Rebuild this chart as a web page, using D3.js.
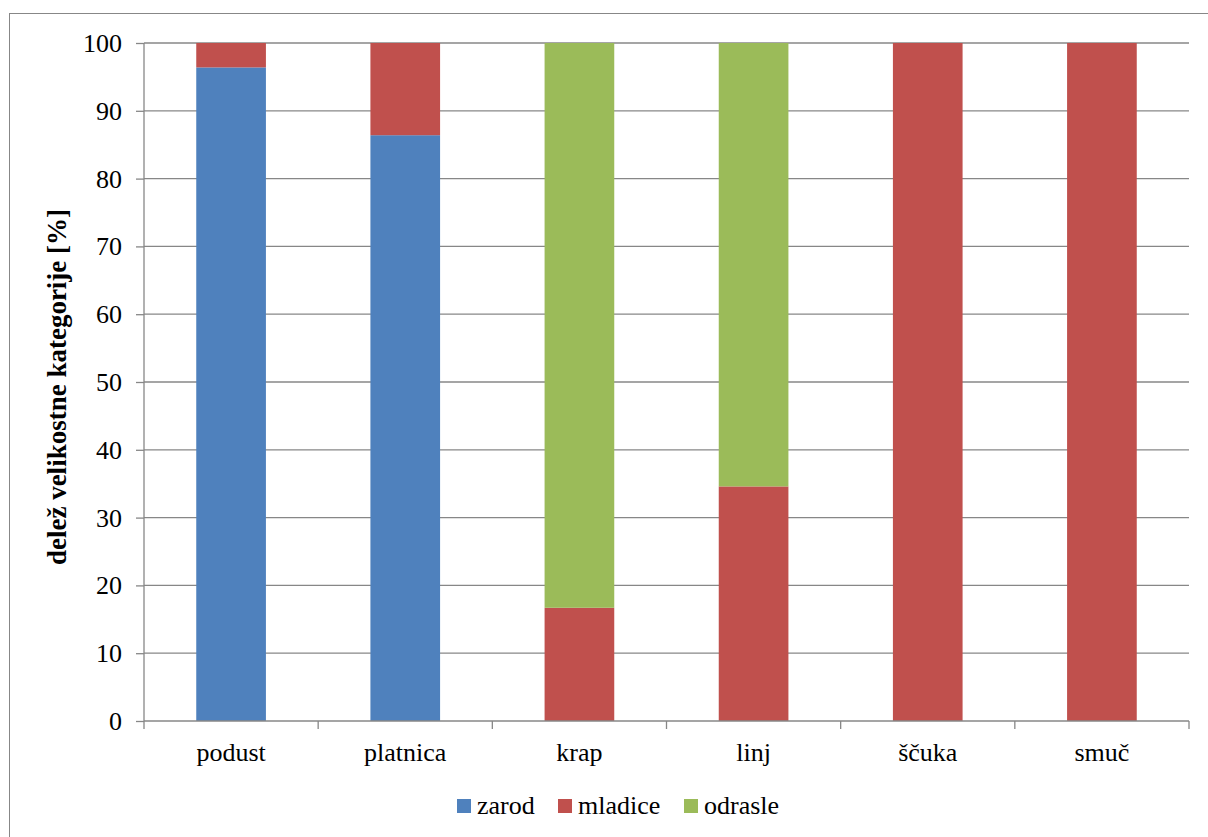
<!DOCTYPE html>
<html><head><meta charset="utf-8">
<script src="https://cdn.jsdelivr.net/npm/d3@7"></script>
</head><body style="margin:0;background:#fff">
<script>
const categories = ["podust","platnica","krap","linj","ščuka","smuč"];
const seriesNames = ["zarod","mladice","odrasle"];
const zarod   = [96.4, 86.4, 0, 0, 0, 0];
const mladice = [3.6, 13.6, 16.7, 34.6, 100, 100];
const odrasle = [0, 0, 83.3, 65.4, 0, 0];
const yTicks = [0,10,20,30,40,50,60,70,80,90,100];
const colors = ["#4F81BD","#C0504D","#9BBB59"];

const FF="Liberation Serif";
const W=1208,H=837;
const svg=d3.select("body").append("svg").attr("width",W).attr("height",H)
  .attr("font-family",FF).style("font-family",`'${FF}'`);
svg.append("rect").attr("x",9.5).attr("y",13.5).attr("width",W).attr("height",H).attr("fill","none").attr("stroke","#878787").attr("stroke-width",1);

const L=144,R=1189,T=43,B=721;
const x=d3.scaleBand().domain(categories).range([L,R]).paddingInner(0.6).paddingOuter(0.3);
const y=d3.scaleLinear().domain([0,100]).range([B,T]);

svg.append("g").selectAll("line").data(yTicks.filter(d=>d>0)).join("line")
  .attr("x1",L).attr("x2",R).attr("y1",d=>y(d)).attr("y2",d=>y(d))
  .attr("stroke","#878787").attr("stroke-width",1.3);

const table=categories.map((c,i)=>({cat:c,zarod:zarod[i],mladice:mladice[i],odrasle:odrasle[i]}));
const stack=d3.stack().keys(seriesNames)(table);
svg.append("g").selectAll("g").data(stack).join("g").attr("fill",(d,i)=>colors[i])
  .selectAll("rect").data(d=>d).join("rect")
  .attr("x",d=>x(d.data.cat)).attr("width",x.bandwidth())
  .attr("y",d=>y(d[1])).attr("height",d=>y(d[0])-y(d[1]));

function tx(sel,fs){fs=fs||26;return sel.attr("font-family",FF).style("font-family",`'${FF}'`).attr("font-size",fs).style("font-size",fs+"px").attr("fill","#000");}

const ya=svg.append("g").attr("transform",`translate(${L},0)`)
  .call(d3.axisLeft(y).tickValues(yTicks).tickSize(8).tickPadding(14));
ya.attr("font-family",FF).attr("font-size",26);
ya.select(".domain").attr("stroke","#878787").attr("stroke-width",1.3).attr("d",`M0,${T}V${B}`);
ya.selectAll(".tick line").attr("stroke","#878787").attr("stroke-width",1.3);
tx(ya.selectAll(".tick text")).attr("dy","0.33em");

const xa=svg.append("g").attr("transform",`translate(0,${B})`);
xa.append("line").attr("x1",L).attr("x2",R).attr("y1",0).attr("y2",0).attr("stroke","#878787").attr("stroke-width",1.3);
const step=(R-L)/categories.length;
xa.selectAll("line.t").data(d3.range(categories.length+1)).join("line").attr("class","t")
  .attr("x1",i=>L+i*step).attr("x2",i=>L+i*step).attr("y1",0).attr("y2",8)
  .attr("stroke","#878787").attr("stroke-width",1.3);
tx(xa.selectAll("text").data(categories).join("text")
  .attr("x",d=>x(d)+x.bandwidth()/2).attr("y",40).attr("text-anchor","middle")).text(d=>d);

tx(svg.append("text").attr("transform",`translate(66,387) rotate(-90)`)
  .attr("text-anchor","middle"),27).attr("font-weight","bold").style("font-weight","bold")
  .text("delež velikostne kategorije [%]");

const legX=[457,558,684];
const lg=svg.append("g");
seriesNames.forEach((s,i)=>{
  lg.append("rect").attr("x",legX[i]).attr("y",799).attr("width",14).attr("height",14).attr("fill",colors[i]);
  tx(lg.append("text").attr("x",legX[i]+20).attr("y",814)).text(s);
});
</script>
</body></html>
